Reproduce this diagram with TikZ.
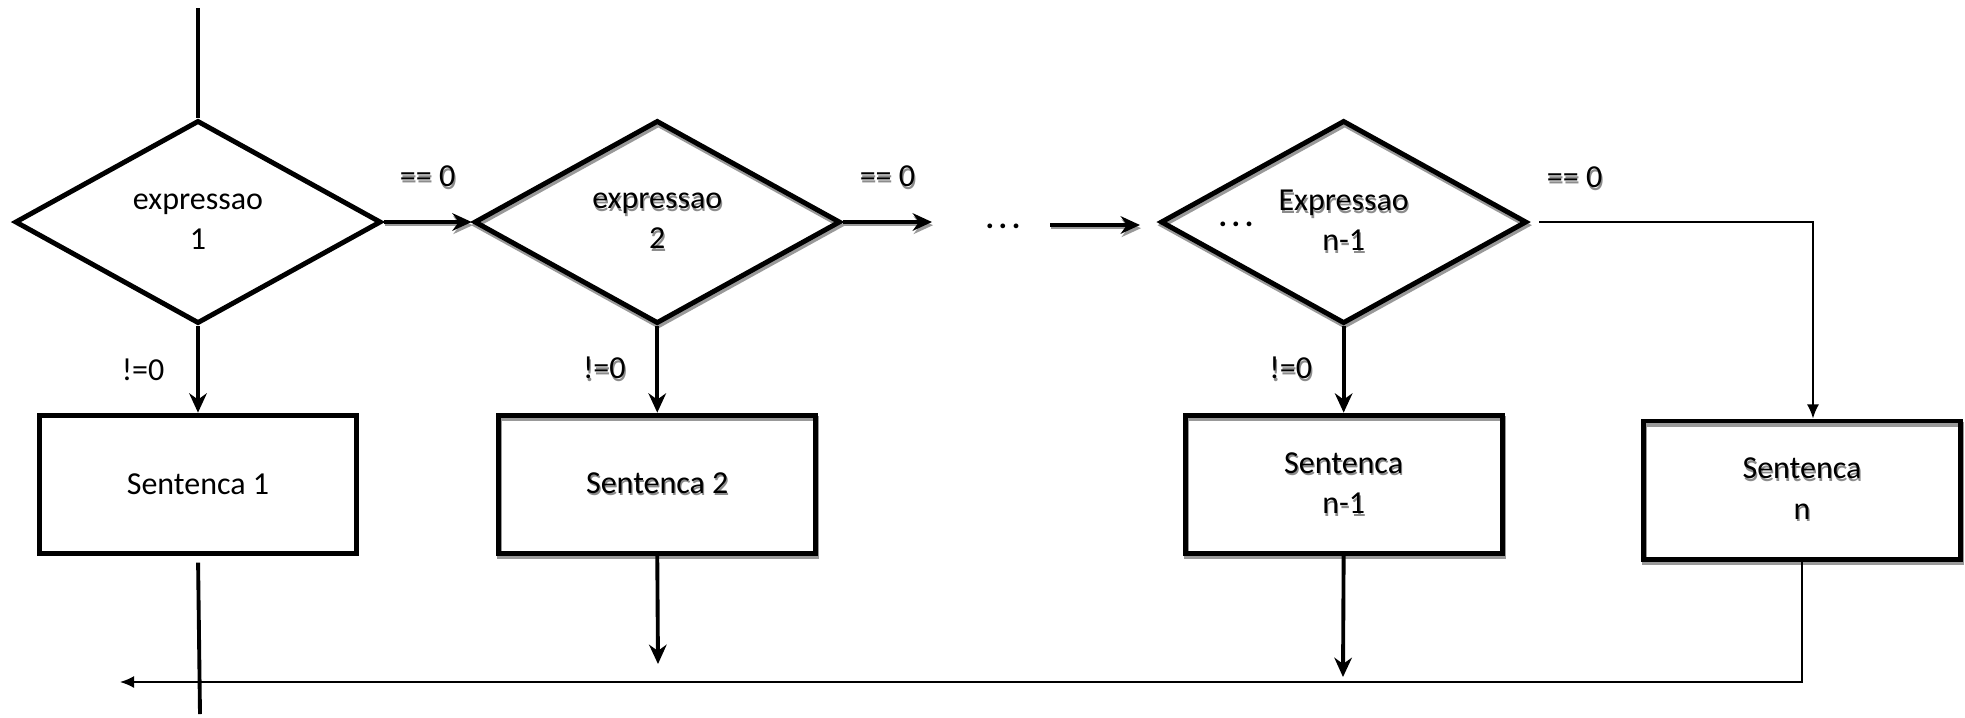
\documentclass[tikz,border=0pt]{standalone}
\usepackage{fontspec}
\setmainfont{Carlito}
\usetikzlibrary{shapes.geometric, arrows.meta, positioning}
\newcommand{\shtxt}[1]{\leavevmode\rlap{\kern0.35pt\raisebox{-0.8pt}{\color{black!45}#1}}#1}
\newcommand{\wdots}{\textbf{.\kern1.3pt.\kern1.3pt.}}
\tikzstyle{decision}=[
    draw,
    diamond,
    aspect = 1.8,
    line width = 1.4pt,
    inner sep = 0pt,
    minimum width = 3.66cm,
    minimum height = 2.03cm,
    align = center
]
\tikzstyle{sentence}=[
    draw,
    rectangle,
    line width = 1.4pt,
    minimum width = 3.17cm,
    minimum height = 1.38cm,
    align = center
]
\begin{document}
\begin{tikzpicture}[x=0.01cm, y=-0.01cm, font=\fontsize{9.1pt}{11.4pt}\selectfont,
    flow/.style = {line width=1.1pt, -{Stealth[length=5.5pt, width=5pt]}},
    wire/.style = {line width=0.45pt, -{Latex[length=4pt, width=3.4pt]}},
    casted/.style = {preaction={draw=black!40, transform canvas={shift={(0.3pt,-0.9pt)}}}}]
        \useasboundingbox (0,0) rectangle (1965,717);

        \node[decision] (e1) at (198,222) {expressao\\1};
        \node[decision, casted] (e2) [node distance = 4.59cm, right of = e1] {\shtxt{expressao}\\\shtxt{2}};
        \node[decision, casted] (e3) [node distance = 6.86cm, right of = e2] {\shtxt{Expressao}\\\shtxt{n-1}};
        \node[sentence] (s1) [node distance = 2.62cm, below of = e1] {Sentenca 1};
        \node[sentence, casted] (s2) [node distance = 2.62cm, below of = e2] {\shtxt{Sentenca 2}};
        \node[sentence, casted] (s3) [node distance = 2.62cm, below of = e3] {\shtxt{Sentenca}\\\shtxt{n-1}};
        \node[sentence, casted] (s4) at (1802,490) {\shtxt{Sentenca}\\\shtxt{n}};
        \node (dots1) at (1003,226) {\wdots};
        \node (dots2) at (1236,224) {\wdots};

        \coordinate (top) at (198,8);
        \coordinate (out1) at (200,714);
        \coordinate (out2) at (658,664);
        \coordinate (out3) at (1343,677);
        \coordinate (gap1) at (932,222);
        \coordinate (gap2) at (1050,225);
        \coordinate (gap3) at (1140,225);
        \coordinate (back) at (120,682);

        \draw[line width=1.1pt] (top) -- (e1.north);
        \draw[flow, casted] (e1.east) -- (e2.west) node[midway, above=0.19cm] (c1) {\shtxt{== 0}};
        \draw[flow, casted] (e2.east) -- (gap1) node[midway, above=0.19cm] (c2) {\shtxt{== 0}};
        \draw[flow, casted] (gap2) -- (gap3);
        \draw[wire, shorten <=0.1cm] (e3.east) -| ([xshift=0.11cm]s4.north) node[pos=0.08, above=0.19cm] (c3) {\shtxt{== 0}};
        \draw[flow] (e1.south) -- (s1.north) node[midway, left=0.2cm] (n1) {!=0};
        \draw[flow] (e2.south) -- (s2.north) node[midway, left=0.18cm] (n2) {\shtxt{!=0}};
        \draw[flow] (e3.south) -- (s3.north) node[midway, left=0.18cm] (n3) {\shtxt{!=0}};
        \draw[line width=1.1pt, shorten <=0.07cm] (s1.south) -- (out1);
        \draw[flow] (s2.south) -- (out2);
        \draw[flow] (s3.south) -- (out3);
        \draw[wire] (s4.south) |- (back);

    \end{tikzpicture}
\end{document}
